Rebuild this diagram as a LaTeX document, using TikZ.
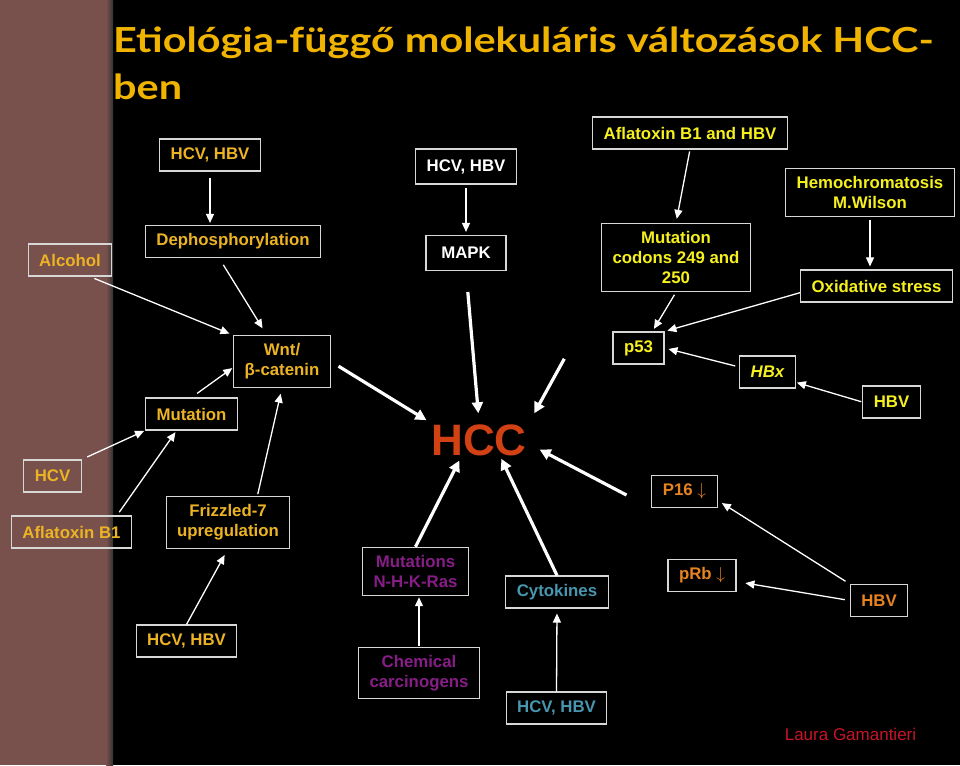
\documentclass[tikz,border=0pt]{standalone}
\usepackage{fontspec}
\setmainfont{Liberation Sans}
\newfontfamily\titlefont{Lato}[FakeStretch=1.2]
\usetikzlibrary{arrows.meta}

\definecolor{stripe}{RGB}{120,80,76}
\definecolor{boxgray}{RGB}{215,215,215}
\definecolor{gold}{RGB}{236,180,36}
\definecolor{lemon}{RGB}{245,240,30}
\definecolor{amber}{RGB}{232,132,32}
\definecolor{cytoblue}{RGB}{72,150,175}
\definecolor{nhkpurple}{RGB}{135,30,135}
\definecolor{hccred}{RGB}{210,65,20}
\definecolor{titlegold}{RGB}{240,180,0}
\definecolor{authorred}{RGB}{200,20,40}

\newcommand\boxfont{\fontsize{16.8}{20}\selectfont\bfseries}

\begin{document}
\begin{tikzpicture}[x=1pt, y=-1pt,
    box/.style={draw=boxgray, line width=1.1pt, inner xsep=11pt, inner ysep=8pt, minimum height=32pt, align=center, font=\boxfont},
    link/.style={draw=white, line width=1.3pt, -{Triangle[length=9pt,width=8pt]}},
    bigarrow/.style={draw=white, line width=3.2pt, -{Triangle[length=11pt,width=11pt]}}]

    \useasboundingbox (0,0) rectangle (960,765);
    \fill[black] (0,0) rectangle (960,765);
    \fill[stripe] (0,0) rectangle (113,765);
    \shade[left color=stripe, right color=black!80] (106,0) rectangle (113,765);

    % Title
    \node[anchor=base west, inner sep=0pt, text=titlegold, font=\titlefont\bfseries\fontsize{34.5}{34.5}\selectfont] (title1) at (113,53) {Etiológia-függő molekuláris változások HCC-};
    \node[anchor=base west, inner sep=0pt, text=titlegold, font=\titlefont\bfseries\fontsize{34.5}{34.5}\selectfont] (title2) at (113,100) {ben};

    % Left branch (Wnt)
    \node[box, text=gold] (hcvDeph) at (210,155) {HCV, HBV};
    \node[box, text=gold] (dephos) at (233,241.5) {Dephosphorylation};
    \node[box, text=gold] (alcohol) at (70,260) {Alcohol};
    \node[box, text=gold] (wnt) at (282,361.5) {Wnt/\\β-catenin};
    \node[box, text=gold] (mutation) at (191.5,414) {Mutation};
    \node[box, text=gold] (hcv) at (52.5,476) {HCV};
    \node[box, text=gold] (aflaB) at (71.5,532) {Aflatoxin B1};
    \node[box, text=gold] (frizzled) at (228,522.5) {Frizzled-7\\upregulation};
    \node[box, text=gold] (hcvFriz) at (186.5,641) {HCV, HBV};

    % MAPK
    \node[box, text=white, minimum height=35pt] (hcvMapk) at (466,166.5) {HCV, HBV};
    \node[box, text=white, minimum height=35pt, minimum width=80pt] (mapk) at (466,253) {MAPK};

    % p53 branch
    \node[box, text=lemon] (aflaHbv) at (690,133) {Aflatoxin B1 and HBV};
    \node[box, text=lemon] (codons) at (676,257.5) {Mutation\\codons 249 and\\250};
    \node[box, text=lemon] (hemo) at (870,192.5) {Hemochromatosis\\M.Wilson};
    \node[box, text=lemon] (oxid) at (876.5,286) {Oxidative stress};
    \node[box, text=lemon] (p53) at (638.5,348) {p53};
    \node[box, text=lemon, font=\boxfont\itshape] (hbx) at (767.5,372) {HBx};
    \node[box, text=lemon] (hbvX) at (891.5,402) {HBV};

    % P16 / pRb
    \node[box, text=amber] (p16) at (684.5,491.5) {P16 $\downarrow$};
    \node[box, text=amber] (prb) at (702,575.5) {pRb $\downarrow$};
    \node[box, text=amber] (hbvP) at (879,600.5) {HBV};

    % bottom
    \node[box, text=nhkpurple] (nhk) at (415.5,571.5) {Mutations\\N-H-K-Ras};
    \node[box, text=nhkpurple] (chem) at (419,673) {Chemical\\carcinogens};
    \node[box, text=cytoblue] (cyto) at (557,592) {Cytokines};
    \node[box, text=cytoblue] (hcvCyto) at (556.5,708) {HCV, HBV};

    \node[text=hccred, font=\fontsize{44}{44}\selectfont\bfseries, inner sep=3pt] (hcc) at (479,440) {HCC};
    \node[text=authorred, font=\fontsize{17}{20}\selectfont] (author) at (850.5,734) {Laura Gamantieri};

    % thin links
    \draw[link, shorten <=6pt, shorten >=2pt] (hcvDeph.south) -- (hcvDeph.south |- dephos.north);
    \draw[link, shorten <=3pt, shorten >=3pt] (hcvMapk.south) -- (mapk.north);
    \draw[link, shorten <=2pt, shorten >=4pt] (aflaHbv.south) -- (codons.north);
    \draw[link, shorten <=3pt, shorten >=3pt] (hemo.south) -- (hemo.south |- oxid.north);
    \draw[link, shorten <=5pt, shorten >=4pt] (alcohol.-40) -- (wnt.north west);
    \draw[link, shorten <=8pt, shorten >=8pt] (dephos.-130) -- (wnt.120);
    \draw[link, shorten <=7pt, shorten >=1pt] (mutation.north) -- (wnt.187);
    \draw[link, shorten <=6pt, shorten >=1pt] (hcv.north east) -- (mutation.south west);
    \draw[link, shorten <=4pt, shorten >=2pt] (aflaB.20) -- (mutation.-132);
    \draw[link, shorten <=2pt, shorten >=6pt] (frizzled.42) -- (wnt.south);
    \draw[link, shorten >=7pt] (hcvFriz.north) -- (frizzled.south);
    \draw[link, shorten <=1pt, shorten >=1pt] (chem.north) -- (chem.north |- nhk.south);
    \draw[link, shorten >=5pt] (hcvCyto.north) -- (cyto.south);
    \draw[link, shorten <=3pt, shorten >=3pt] (codons.south) -- (p53.50);
    \draw[link, shorten >=3pt] (oxid.185) -- (p53.north east);
    \draw[link, shorten <=4pt, shorten >=4pt] (hbx.170) -- (p53.east);
    \draw[link, shorten <=1pt, shorten >=1pt] (hbvX.west) -- (hbx.-20);
    \draw[link, shorten <=5pt, shorten >=5pt] (hbvP.north west) -- (p16.-15);
    \draw[link, shorten <=5pt, shorten >=9pt] (hbvP.west) -- (prb.-10);

    % thick arrows into HCC
    \draw[bigarrow, shorten <=9pt, shorten >=2pt] (wnt.east) -- (hcc.north west);
    \draw[bigarrow, shorten <=21pt, shorten >=8pt] (mapk.south) -- (hcc.north);
    \draw[bigarrow, shorten <=76pt, shorten >=9pt] (codons.south west) -- (hcc.north east);
    \draw[bigarrow, shorten <=28pt, shorten >=11pt] (p16.south west) -- (hcc.-5);
    \draw[bigarrow, shorten >=2pt] (nhk.north) -- (hcc.-135);
    \draw[bigarrow] (cyto.north) -- (hcc.-40);
\end{tikzpicture}
\end{document}
